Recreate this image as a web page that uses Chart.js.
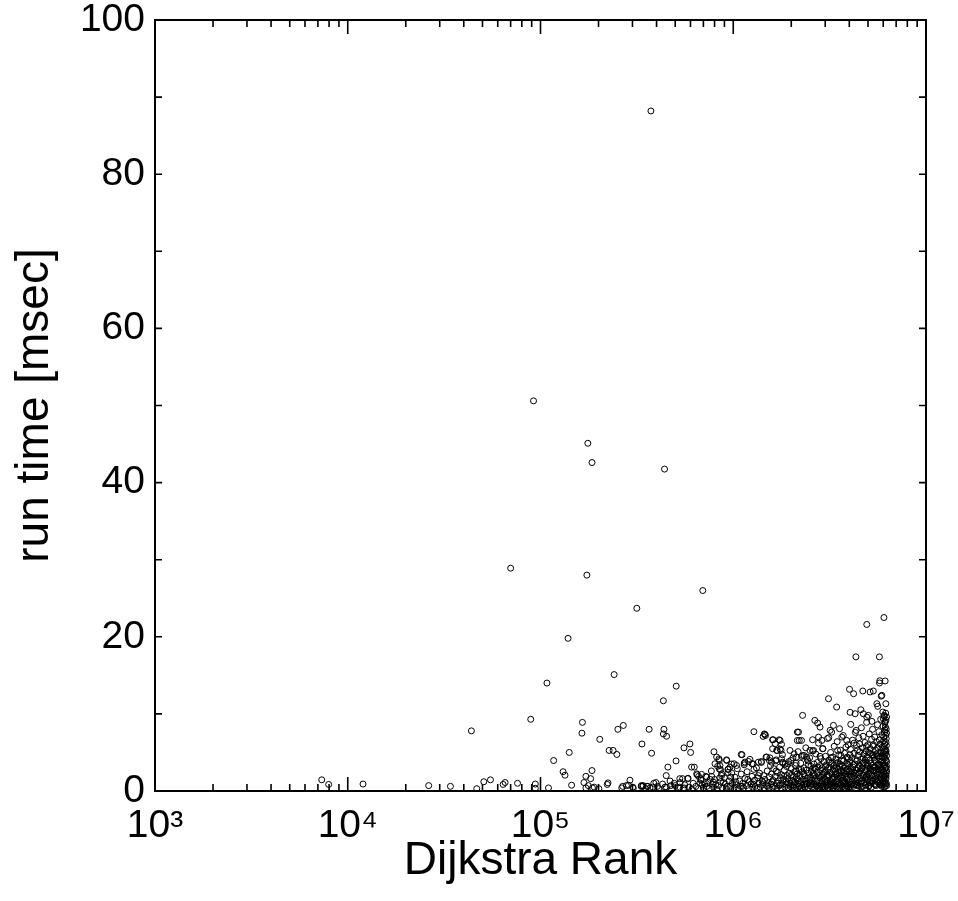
<!DOCTYPE html>
<html>
<head>
<meta charset="utf-8">
<script src="https://cdn.jsdelivr.net/npm/chart.js@4.4.1/dist/chart.umd.min.js"></script>
<style>
  html, body { margin: 0; padding: 0; background: #ffffff; }
  #wrap { width: 958px; height: 901px; }
</style>
</head>
<body>
<div id="wrap"><canvas id="c" width="958" height="901"></canvas></div>
<script>
// ---------- data ----------
const xDecadeTicks = [1e3, 1e4, 1e5, 1e6, 1e7];
const yTickValues = [0, 20, 40, 60, 80, 100];
const xTitle = "Dijkstra Rank";
const yTitle = "run time [msec]";

// isolated / sparse queries  [Dijkstra rank, run time ms]
const sparseRuns = [
  [7.33e3,1.45],[7.96e3,0.85],[1.2e4,0.9],[2.63e4,0.7],[3.41e4,0.6],[4.38e4,7.8],[4.67e4,0.3],
  [5.08e4,1.2],[5.5e4,1.45],[6.4e4,0.85],[6.55e4,1.1],[7.0e4,28.9],[7.6e4,1.0],[8.9e4,9.3],
  [9.2e4,50.6],[9.4e4,0.9],[9.4e4,0.35],[1.08e5,14.0],[1.1e5,0.4],[1.17e5,3.95],[1.31e5,2.5],
  [1.34e5,2.05],[1.39e5,19.8],[1.41e5,5.0],[1.45e5,0.75],[1.64e5,7.5],[1.65e5,8.9],[1.68e5,1.1],
  [1.72e5,1.9],[1.72e5,0.4],[1.74e5,28.0],[1.76e5,45.1],[1.77e5,0.7],[1.82e5,1.6],[1.85e5,2.65],
  [1.85e5,42.6],[1.86e5,0.4],[1.9e5,0.5],[2.01e5,0.3],[2.03e5,6.7],[2.22e5,0.85],[2.24e5,1.05],
  [2.27e5,5.26],[2.38e5,5.26],[2.41e5,15.1],[2.49e5,4.74],[2.52e5,8.0],[2.64e5,0.4],[2.67e5,0.6],
  [2.69e5,8.5],[2.79e5,0.7],[2.86e5,0.75],[2.91e5,1.4],[3.01e5,0.5],[3.03e5,0.35],[3.16e5,23.7],
  [3.33e5,0.6],[3.34e5,0.7],[3.36e5,6.1],[3.39e5,0.6],[3.41e5,0.7],[3.52e5,0.3],[3.57e5,0.6],
  [3.6e5,0.6],[3.66e5,8.0],[3.7e5,0.4],[3.74e5,88.2],[3.77e5,4.9],[3.82e5,0.5],[3.87e5,1.0],
  [3.97e5,1.1],[4.04e5,0.6],[4.34e5,11.7],[4.34e5,7.4],[4.37e5,8.0],[4.4e5,41.75],[4.42e5,0.5],
  [4.49e5,2.0],[4.51e5,7.1],[4.58e5,3.1],[4.74e5,0.7],[4.94e5,1.0],[5.05e5,3.9],[5.06e5,13.6],
  [5.28e5,1.6],[5.28e5,0.5],[5.46e5,1.6],[5.55e5,5.6],[5.57e5,0.4],[5.83e5,1.65],[5.96e5,6.1],
  [6.01e5,5.0],[6.95e5,26.0]
];

// scattered points above the dense band
const scatterRuns = [
  [6.08e5,3.1],[6.28e5,3.1],[6.46e5,2.23],[6.61e5,1.89],[6.79e5,1.58],[6.85e5,2.15],[6.71e5,1.02],
  [7.28e5,1.8],[7.73e5,1.89],[7.89e5,1.15],[7.94e5,5.09],[8.04e5,3.53],[8.2e5,4.4],[8.43e5,4.17],
  [8.47e5,3.96],[8.53e5,3.31],[8.47e5,2.84],[8.59e5,2.75],[8.71e5,2.23],[9.23e5,4.04],[9.25e5,3.96],
  [9.38e5,2.79],[9.42e5,2.84],[9.62e5,3.1],[9.82e5,2.32],[1.01e6,3.53],[1.04e6,3.31],[1.1e6,4.74],
  [1.11e6,4.7],[1.14e6,3.61],[1.15e6,3.75],[1.2e6,3.83],[1.25e6,3.53],[1.27e6,3.53],[1.28e6,7.69],
  [1.35e6,3.74],[1.4e6,3.83],[1.43e6,7.08],[1.45e6,7.4],[1.46e6,7.34],[1.47e6,7.2],[1.49e6,4.4],
  [1.54e6,3.96],[1.55e6,4.3],[1.58e6,3.74],[1.6e6,6.64],[1.6e6,5.48],[1.61e6,6.65],[1.65e6,6.13],
  [1.67e6,4.04],[1.68e6,5.26],[1.69e6,5.26],[1.73e6,6.64],[1.75e6,6.56],[1.75e6,5.44],[1.77e6,5.26],
  [1.78e6,6.04],[1.78e6,4.18],[1.8e6,3.74],[1.81e6,3.62],[1.89e6,3.18],[1.93e6,3.53],[1.97e6,5.26],
  [1.99e6,3.96],[2.07e6,4.82],[2.13e6,4.39],[2.15e6,7.64],[2.15e6,6.55],[2.18e6,7.64],[2.2e6,6.56],
  [2.26e6,6.56],[2.29e6,9.81],[2.26e6,4.48],[2.33e6,4.61],[2.4e6,4.4],[2.5e6,5.26],[2.58e6,6.65],
  [2.61e6,5.26],[2.65e6,9.16],[2.74e6,8.81],[2.82e6,8.29],[2.77e6,6.99],[2.88e6,6.56],[2.91e6,5.48],
  [3.12e6,11.97],[3.13e6,6.91],[3.18e6,7.86],[3.24e6,7.64],[3.31e6,8.51],[3.44e6,10.89],[3.48e6,5.26],
  [3.56e6,8.08],[3.66e6,6.99],[3.88e6,6.56],[4.01e6,13.19],[4.04e6,10.2],[4.07e6,8.64],[4.21e6,12.62],
  [4.29e6,10.02],[4.34e6,7.86],[4.59e6,10.54],[4.7e6,12.97],[4.73e6,10.02],[4.93e6,9.59],[5.02e6,9.81],
  [5.13e6,12.84],[5.33e6,12.97],[5.24e6,9.03],[5.56e6,11.32],[5.62e6,10.98],[5.74e6,14.01],[5.9e6,12.41],
  [5.97e6,10.24],[6.07e6,9.81],[6.14e6,14.27],[6.01e6,9.38],[6.19e6,11.32],[5.76e6,14.3],[5.86e6,12.3],
  [4.33e6,17.4],[5.73e6,17.4],[4.93e6,21.6],[6.05e6,22.5]
];

// dense band of queries, 4e5 .. 6.3e6
const denseRuns = [
  [4.1e5,0.3],[4.3e5,0.9],[4.5e5,0.5],[4.7e5,1.3],[4.8e5,0.2],[5.0e5,0.7],[5.2e5,0.4],[5.3e5,1.1],
  [5.5e5,0.3],[5.6e5,0.8],[5.8e5,1.6],[5.9e5,0.5],[6.1e5,0.2],[6.2e5,1.0],[6.4e5,0.6],[6.5e5,2.1],
  [6.6e5,0.3],[6.8e5,1.4],[6.9e5,0.8],[7.0e5,0.4],[7.2e5,1.9],[7.3e5,0.6],[7.4e5,1.1],[7.5e5,0.3],
  [7.7e5,2.6],[7.8e5,0.9],[7.9e5,0.5],[8.0e5,1.5],[8.2e5,0.2],[8.3e5,3.2],[8.4e5,0.7],[8.6e5,1.2],
  [8.7e5,2.0],[8.8e5,0.4],[9.0e5,1.7],[9.1e5,0.9],[9.2e5,0.3],[9.4e5,2.4],[9.5e5,1.3],[9.6e5,0.6],
  [9.8e5,3.5],[9.9e5,1.0],
  [7.1e5,0.9],[7.6e5,1.5],[8.1e5,0.8],[8.5e5,1.7],[8.9e5,1.1],[9.3e5,0.6],[9.7e5,1.8],
  [1.01e6,0.4],[1.02e6,1.8],[1.04e6,0.8],[1.05e6,2.9],[1.06e6,0.3],[1.08e6,1.3],[1.09e6,0.6],[1.1e6,2.2],
  [1.12e6,1.0],[1.13e6,0.4],[1.14e6,3.4],[1.15e6,1.6],[1.17e6,0.7],[1.18e6,2.5],[1.2e6,0.3],[1.21e6,1.2],
  [1.22e6,4.1],[1.24e6,0.9],[1.25e6,1.9],[1.26e6,0.5],[1.28e6,2.8],[1.29e6,1.4],[1.3e6,0.6],[1.32e6,3.0],
  [1.33e6,0.3],[1.34e6,1.7],[1.36e6,1.0],[1.37e6,2.3],[1.38e6,0.5],[1.4e6,3.7],[1.41e6,1.3],[1.42e6,0.8],
  [1.44e6,2.0],[1.45e6,0.4],[1.46e6,1.5],[1.48e6,4.4],[1.49e6,0.7],[1.5e6,2.6],[1.52e6,1.1],[1.53e6,0.3],
  [1.54e6,1.8],[1.56e6,3.3],[1.57e6,0.9],[1.58e6,2.2],[1.6e6,0.5],[1.61e6,1.4],[1.62e6,2.9],[1.64e6,0.6],
  [1.65e6,1.9],[1.66e6,3.9],[1.68e6,1.0],[1.69e6,0.4],[1.7e6,2.4],[1.72e6,1.3],[1.73e6,0.7],[1.74e6,3.1],
  [1.76e6,1.7],[1.77e6,0.3],[1.78e6,2.1],[1.8e6,4.7],[1.81e6,0.9],[1.82e6,1.5],[1.84e6,2.7],[1.85e6,0.5],
  [1.86e6,3.5],[1.88e6,1.2],[1.89e6,0.8],[1.9e6,2.0],[1.92e6,1.6],[1.93e6,0.4],[1.94e6,3.8],[1.96e6,2.3],
  [1.97e6,1.0],[1.98e6,0.6],[2.0e6,2.9],[2.01e6,1.4],[2.02e6,0.3],[2.04e6,4.3],[2.05e6,1.9],[2.06e6,0.8],
  [2.08e6,2.5],[2.09e6,1.1],[2.1e6,3.3],[2.12e6,0.5],[2.13e6,1.7],[2.14e6,2.2],[2.16e6,0.9],[2.17e6,5.1],
  [2.18e6,1.3],[2.19e6,2.8],
  [1.03e6,1.2],[1.11e6,0.6],[1.19e6,1.5],[1.27e6,0.9],[1.35e6,2.0],[1.43e6,1.1],[1.51e6,0.6],[1.59e6,1.2],
  [1.67e6,2.6],[1.75e6,0.8],[1.83e6,1.9],[1.91e6,1.0],[1.99e6,2.0],[2.07e6,1.2],[2.11e6,2.6],[2.19e6,0.6],
  [2.21e6,0.6],[2.22e6,1.9],[2.24e6,3.6],[2.25e6,1.2],[2.26e6,0.4],[2.28e6,2.5],[2.29e6,4.6],[2.3e6,1.5],
  [2.32e6,0.8],[2.33e6,3.0],[2.34e6,2.0],[2.36e6,0.5],[2.37e6,1.3],[2.38e6,5.6],[2.4e6,2.7],[2.41e6,0.9],
  [2.42e6,1.7],[2.44e6,3.9],[2.45e6,0.4],[2.46e6,2.3],[2.48e6,1.1],[2.49e6,4.3],[2.5e6,0.7],[2.52e6,1.8],
  [2.53e6,3.2],[2.54e6,2.6],[2.56e6,0.5],[2.57e6,1.4],[2.58e6,5.2],[2.6e6,2.1],[2.61e6,0.9],[2.62e6,3.5],
  [2.64e6,1.6],[2.65e6,0.3],[2.66e6,2.9],[2.68e6,4.8],[2.69e6,1.2],[2.7e6,0.7],[2.72e6,2.4],[2.73e6,3.7],
  [2.74e6,1.5],[2.76e6,0.4],[2.77e6,6.2],[2.78e6,2.0],[2.8e6,1.0],[2.81e6,3.3],[2.82e6,0.6],[2.84e6,2.7],
  [2.85e6,4.2],[2.86e6,1.8],[2.88e6,0.5],[2.89e6,3.0],[2.9e6,1.3],[2.92e6,5.5],[2.93e6,2.2],[2.94e6,0.8],
  [2.96e6,3.8],[2.97e6,1.6],[2.98e6,0.4],[3.0e6,2.5],[3.01e6,4.5],[3.02e6,1.1],[3.04e6,3.4],[3.05e6,0.7],
  [3.06e6,2.0],[3.08e6,6.8],[3.09e6,1.4],[3.1e6,2.9],[3.12e6,0.5],[3.13e6,4.0],[3.14e6,1.9],[3.16e6,3.1],
  [3.17e6,0.9],[3.18e6,2.4],[3.2e6,5.0],[3.21e6,1.2],[3.22e6,0.6],[3.24e6,3.6],[3.25e6,2.2],[3.26e6,1.5],
  [3.28e6,4.4],[3.29e6,0.4],[3.3e6,2.7],[3.32e6,1.0],[3.33e6,3.3],[3.34e6,5.8],[3.36e6,1.8],[3.37e6,0.7],
  [3.38e6,2.5],[3.4e6,4.1],[3.41e6,1.3],[3.42e6,3.0],[3.44e6,0.5],[3.45e6,2.1],[3.46e6,6.4],[3.48e6,1.6],
  [3.49e6,3.7],[3.5e6,0.9],[3.52e6,2.8],[3.53e6,4.7],[3.54e6,1.1],[3.56e6,2.3],[3.57e6,0.4],[3.58e6,3.5],
  [3.6e6,5.3],[3.61e6,1.7],[3.62e6,0.8],[3.64e6,2.6],[3.65e6,4.0],[3.66e6,1.4],[3.68e6,3.2],[3.69e6,0.6],
  [3.7e6,2.0],[3.72e6,7.2],[3.73e6,1.2],[3.74e6,3.9],[3.76e6,2.4],[3.77e6,0.5],[3.78e6,4.9],[3.8e6,1.9],
  [3.81e6,3.0],[3.82e6,1.0],[3.84e6,5.7],[3.85e6,2.2],[3.86e6,0.7],[3.88e6,3.6],[3.89e6,1.5],[3.9e6,4.4],
  [3.92e6,2.8],[3.93e6,0.9],[3.94e6,6.0],[3.96e6,1.8],[3.97e6,3.3],[3.98e6,0.5],[3.99e6,2.5],
  [2.3e6,0.3],[2.5e6,1.4],[2.7e6,0.6],[2.9e6,2.1],[3.1e6,0.8],[3.3e6,1.7],[3.5e6,0.4],[3.7e6,1.3],
  [3.9e6,0.7],[2.4e6,1.0],[2.6e6,2.3],[2.8e6,0.4],[3.0e6,1.5],[3.2e6,0.9],[3.4e6,2.2],[3.6e6,0.6],[3.8e6,1.2],
  [2.05e6,0.6],[2.15e6,1.5],[2.25e6,2.8],[2.35e6,0.9],[2.45e6,3.4],[2.55e6,1.0],[2.65e6,2.0],[2.75e6,3.1],
  [2.85e6,0.8],[2.95e6,2.4],[3.05e6,1.2],[3.15e6,3.7],[3.25e6,0.7],[3.35e6,2.9],[3.45e6,1.4],[3.55e6,3.2],
  [3.65e6,2.1],[3.75e6,1.0],[3.85e6,2.6],[3.95e6,4.2],
  [2.12e6,3.6],[2.22e6,0.4],[2.32e6,2.2],[2.42e6,4.1],[2.52e6,0.9],[2.62e6,3.0],[2.72e6,1.3],[2.82e6,4.5],
  [2.92e6,0.6],[3.02e6,3.2],[3.12e6,2.0],[3.22e6,4.3],[3.32e6,0.5],[3.42e6,3.6],[3.52e6,1.9],[3.62e6,4.6],
  [3.72e6,2.7],[3.82e6,0.4],[3.92e6,3.5],
  [4.0e6,1.2],[4.02e6,3.8],[4.04e6,2.1],[4.06e6,5.4],[4.08e6,0.8],[4.1e6,2.9],[4.12e6,4.3],[4.14e6,1.6],
  [4.16e6,6.6],[4.18e6,3.1],[4.2e6,0.6],[4.22e6,2.4],[4.24e6,4.9],[4.26e6,1.9],[4.28e6,3.5],[4.3e6,7.6],
  [4.32e6,1.0],[4.34e6,2.7],[4.36e6,5.9],[4.38e6,3.9],[4.4e6,1.4],[4.42e6,0.7],[4.44e6,4.6],[4.46e6,2.2],
  [4.48e6,6.9],[4.5e6,3.3],[4.52e6,1.7],[4.54e6,5.1],[4.56e6,2.6],[4.58e6,0.9],[4.6e6,4.1],[4.62e6,8.2],
  [4.64e6,1.3],[4.66e6,3.0],[4.68e6,5.6],[4.7e6,2.0],[4.72e6,7.1],[4.74e6,3.7],[4.76e6,1.1],[4.78e6,4.8],
  [4.8e6,2.5],[4.82e6,6.3],[4.84e6,0.8],[4.86e6,3.4],[4.88e6,5.2],[4.9e6,1.8],[4.92e6,8.9],[4.94e6,2.9],
  [4.96e6,4.4],[4.98e6,1.4],[5.0e6,6.0],[5.02e6,3.2],[5.04e6,0.7],[5.06e6,2.3],[5.08e6,7.4],[5.1e6,4.0],
  [5.12e6,1.6],[5.14e6,5.5],[5.16e6,2.8],[5.18e6,3.6],[5.2e6,1.0],[5.22e6,6.7],[5.24e6,4.7],[5.26e6,2.1],
  [5.28e6,8.0],[5.3e6,3.3],[5.32e6,1.3],[5.34e6,5.8],[5.36e6,2.6],[5.38e6,4.3],[5.4e6,0.9],[5.42e6,7.0],
  [5.44e6,3.0],[5.46e6,1.9],[5.48e6,5.3],[5.5e6,3.8],[5.52e6,2.4],[5.54e6,6.4],[5.56e6,1.2],[5.58e6,4.5],
  [5.6e6,8.6],[5.62e6,2.8],[5.64e6,3.5],[5.66e6,1.5],[5.68e6,5.0],[5.7e6,7.7],[5.72e6,2.2],[5.74e6,4.2],
  [5.76e6,0.8],[5.78e6,6.1],[5.8e6,3.1],[5.82e6,9.3],[5.84e6,1.7],[5.86e6,4.9],[5.88e6,2.7],[5.9e6,7.3],
  [5.92e6,3.9],[5.94e6,5.7],[5.96e6,1.1],[5.98e6,8.4],[6.0e6,2.5],[6.02e6,6.5],[6.04e6,4.4],[6.06e6,9.7],
  [6.08e6,3.4],[6.1e6,1.9],[6.12e6,7.9],[6.14e6,5.4],[6.16e6,2.9],[6.18e6,10.1],[6.2e6,4.0],[6.22e6,6.8],
  [6.24e6,3.2],
  [6.0e6,0.9],[6.05e6,1.4],[6.1e6,3.7],[6.15e6,0.6],[6.2e6,1.6],[6.22e6,2.3],[6.25e6,4.6],[6.23e6,5.9],
  [6.18e6,7.2],[6.12e6,8.8],[6.2e6,9.2],[6.25e6,0.7],[6.05e6,2.2],[6.15e6,4.8],[6.22e6,8.0],[6.1e6,6.1],
  [6.2e6,3.0],[5.95e6,2.0],[6.0e6,4.9],[6.25e6,2.6],[6.24e6,7.5],[6.08e6,5.2],[5.98e6,3.6],[6.18e6,2.1],
  [6.12e6,1.2],
  [4.05e6,0.5],[4.15e6,1.8],[4.25e6,0.9],[4.35e6,2.3],[4.45e6,1.1],[4.55e6,3.2],[4.65e6,0.6],[4.75e6,2.0],
  [4.85e6,1.5],[4.95e6,3.6],[5.05e6,0.6],[5.15e6,2.6],[5.25e6,1.3],[5.35e6,3.1],[5.45e6,0.8],[5.55e6,2.1],
  [5.65e6,1.2],[5.75e6,3.4],[5.85e6,0.9],[5.95e6,2.8],[4.1e6,1.9],[4.3e6,4.1],[4.5e6,0.6],[4.7e6,3.6],
  [4.9e6,2.7],[5.1e6,1.1],[5.3e6,4.6],[5.5e6,1.6],[5.7e6,2.9],[5.9e6,1.4],
  [4.01e6,2.6],[4.11e6,0.9],[4.21e6,3.4],[4.31e6,1.6],[4.41e6,5.3],[4.51e6,2.4],[4.61e6,0.5],[4.71e6,4.3],
  [4.81e6,1.7],[4.91e6,5.8],[5.01e6,2.2],[5.11e6,4.9],[5.21e6,0.5],[5.31e6,2.7],[5.41e6,4.0],[5.51e6,0.7],
  [5.61e6,5.6],[5.71e6,1.0],[5.81e6,4.5],[5.91e6,0.6],[6.01e6,3.3],[6.11e6,4.3],[6.21e6,5.2],
  [4.03e6,4.7],[4.13e6,2.5],[4.23e6,6.2],[4.33e6,0.8],[4.43e6,3.0],[4.53e6,6.1],[4.63e6,2.9],[4.73e6,0.6],
  [4.83e6,4.0],[4.93e6,1.9],[5.03e6,5.0],[5.13e6,3.0],[5.23e6,2.0],[5.33e6,6.0],[5.43e6,1.5],[5.53e6,4.8],
  [5.63e6,3.3],[5.73e6,6.6],[5.83e6,2.3],[5.93e6,4.4],[6.03e6,7.0],[6.13e6,3.0],[6.23e6,1.0],
  [6.06e6,5.8],[6.16e6,8.3],[6.2e6,6.3],[6.24e6,9.6],[6.14e6,9.0],[6.09e6,7.6],[6.19e6,5.0],[6.25e6,3.8],
  [6.17e6,0.9],[6.07e6,0.5],[6.21e6,1.9],[6.03e6,1.8]
];

// ---------- chart ----------
const FONT = "'Liberation Sans', Arial, Helvetica, sans-serif";
const SUP = {'0':'⁰','1':'¹','2':'²','3':'³','4':'⁴','5':'⁵','6':'⁶','7':'⁷','8':'⁸','9':'⁹'};
function powLabel(v) {
  const e = Math.round(Math.log10(v));
  return '10' + String(e).split('').map(ch => SUP[ch]).join('');
}

const allRuns = [].concat(sparseRuns, scatterRuns, denseRuns).map(([x, y]) => ({ x, y }));

const frameTicks = {
  id: 'frameTicks',
  afterDatasetsDraw(chart) {
    const { ctx, chartArea: a, scales } = chart;
    const xs = scales.x, ys = scales.y;
    ctx.save();
    ctx.strokeStyle = '#000';
    ctx.lineWidth = 1.6;
    ctx.beginPath();
    for (let i = 0; i < xDecadeTicks.length; i++) {
      const d = xDecadeTicks[i];
      const px = xs.getPixelForValue(d);
      ctx.moveTo(px, a.bottom); ctx.lineTo(px, a.bottom - 14);
      ctx.moveTo(px, a.top); ctx.lineTo(px, a.top + 14);
      if (i < xDecadeTicks.length - 1) {
        for (let m = 2; m <= 9; m++) {
          const p = xs.getPixelForValue(m * d);
          ctx.moveTo(p, a.bottom); ctx.lineTo(p, a.bottom - 7);
          ctx.moveTo(p, a.top); ctx.lineTo(p, a.top + 7);
        }
      }
    }
    for (let v = 0; v <= 100; v += 10) {
      const py = ys.getPixelForValue(v);
      ctx.moveTo(a.left, py); ctx.lineTo(a.left + 7, py);
      ctx.moveTo(a.right, py); ctx.lineTo(a.right - 7, py);
    }
    ctx.stroke();
    ctx.lineWidth = 2;
    ctx.strokeRect(a.left, a.top, a.right - a.left, a.bottom - a.top);
    ctx.restore();
  }
};

new Chart(document.getElementById('c'), {
  type: 'scatter',
  data: {
    datasets: [{
      label: 'queries',
      data: allRuns,
      pointStyle: 'circle',
      pointRadius: 3,
      pointBorderWidth: 1,
      pointBorderColor: '#000',
      pointBackgroundColor: 'rgba(0,0,0,0)',
      showLine: false
    }]
  },
  options: {
    responsive: false,
    animation: false,
    events: [],
    layout: { padding: { top: 20, right: 32, bottom: 0, left: 0 } },
    plugins: { legend: { display: false }, tooltip: { enabled: false } },
    scales: {
      x: {
        type: 'logarithmic',
        min: 1e3, max: 1e7,
        grid: { display: false, drawTicks: false },
        border: { display: false },
        afterBuildTicks(s) { s.ticks = xDecadeTicks.map(v => ({ value: v })); },
        afterFit(s) { s.height = 110; s.paddingLeft = 0; s.paddingRight = 0; },
        ticks: {
          autoSkip: false, maxRotation: 0, padding: 12,
          color: '#000', font: { family: FONT, size: 39 },
          callback: (v) => powLabel(v)
        },
        title: {
          display: true, text: xTitle, color: '#000',
          font: { family: FONT, size: 46 }, padding: { top: 0, bottom: 12 }
        }
      },
      y: {
        type: 'linear',
        min: 0, max: 100,
        grid: { display: false, drawTicks: false },
        border: { display: false },
        afterBuildTicks(s) { s.ticks = yTickValues.map(v => ({ value: v })); },
        afterFit(s) { s.width = 155; s.paddingTop = 0; s.paddingBottom = 0; },
        ticks: {
          padding: 10, color: '#000', font: { family: FONT, size: 39 }
        },
        title: {
          display: true, text: yTitle, color: '#000',
          font: { family: FONT, size: 46 }, padding: { top: 8, bottom: 0 }
        }
      }
    }
  },
  plugins: [frameTicks]
});
</script>
</body>
</html>
